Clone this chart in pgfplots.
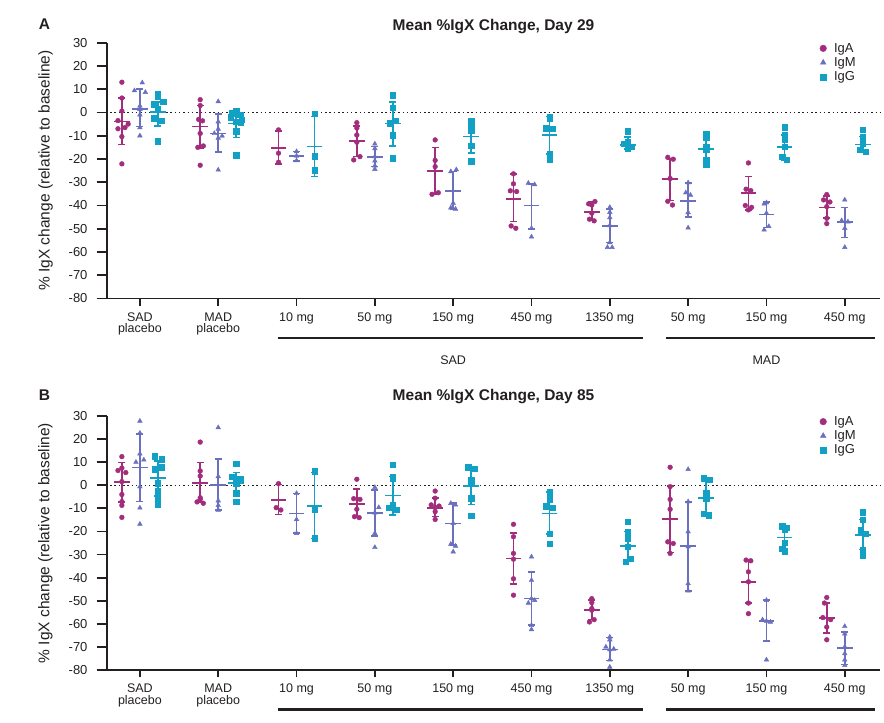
\documentclass[border=0pt]{standalone}
\usepackage{fontspec}
\setmainfont{Liberation Sans}
\usepackage{pgfplots}
\pgfplotsset{compat=1.18}

\definecolor{cIgA}{HTML}{A32D7D}
\definecolor{cIgM}{HTML}{6A70BE}
\definecolor{cIgG}{HTML}{12A0C4}
\definecolor{cAx}{HTML}{231F20}

\pgfplotsset{
  panel/.style={
    scale only axis, width=773pt,
    xmin=-0.42, xmax=9.45, ymin=-80, ymax=30,
    axis lines*=left, axis line style={line width=1.9pt, draw=cAx, -},
    clip=false,
    xtick={0,...,9},
    xticklabels={{SAD\\placebo},{MAD\\placebo},10 mg,50 mg,150 mg,450 mg,1350 mg,50 mg,150 mg,450 mg},
    ytick={-80,-70,...,30},
    yticklabels={-80,-70,-60,-50,-40,-30,-20,-10,0,10,20,30},
    tick align=outside, major tick length=10.5pt,
    tick style={line width=1.9pt, draw=cAx},
    xtick style={/pgfplots/major tick length=7.5pt},
    yticklabel style={font=\fontsize{13}{13}\selectfont, text=cAx, xshift=-5.5pt},
    xticklabel style={font=\fontsize{12.5}{11.7}\selectfont, align=center, text=cAx},
    legend image code/.code={\draw[##1] plot coordinates {(0pt,0pt)};},
    legend style={at={(0.922,1.003)}, anchor=north west, draw=none, fill=none,
      inner sep=0pt, row sep=1.8pt, column sep=6.5pt,
      nodes={inner sep=1pt, text=cAx, font=\fontsize{13}{13}\selectfont}},
    legend cell align=left,
  },
  apts/.style={only marks, mark=*, mark size=2.4pt, color=cIgA, forget plot},
  mpts/.style={only marks, mark=triangle*, mark size=2.7pt, color=cIgM, forget plot},
  gpts/.style={only marks, mark=square*, mark size=2.7pt, color=cIgG, forget plot},
  sdbar/.style={line width=1.6pt, mark=-, mark size=3.5pt, unbounded coords=jump, forget plot},
  meanbar/.style={only marks, mark=-, mark size=7.8pt, line width=1.6pt, forget plot},
  zero/.style={forget plot, cAx, line width=1.5pt, dash pattern=on 1.5pt off 2.8pt},
}

\begin{document}
\begin{tikzpicture}[x=1pt,y=1pt]
\path[use as bounding box] (0,0) rectangle (884,723);

% ---------------- Panel A: Day 29 ----------------
\begin{axis}[panel, at={(107pt,424.5pt)}, anchor=south west, height=255.8pt]
\addplot[zero] coordinates {(-0.38,0) (9.45,0)};

% IgA
\addplot[apts] coordinates {(-0.23,13) (-0.23,6.2) (-0.23,0.6) (-0.28,-3.5) (-0.15,-5) (-0.19,-6.5) (-0.28,-7) (-0.23,-10.4) (-0.23,-22.1)
 (0.77,5.5) (0.77,3) (0.75,-3) (0.80,-3.6) (0.77,-9) (0.81,-14.4) (0.74,-15) (0.77,-22.7)
 (1.77,-7.5) (1.77,-17.5) (1.77,-21.4)
 (2.77,-4.4) (2.77,-6.7) (2.77,-9.7) (2.77,-12.8) (2.81,-19) (2.73,-20.4)
 (3.77,-11.8) (3.77,-20.6) (3.77,-23.3) (3.81,-34.5) (3.73,-35.2)
 (4.77,-26.4) (4.77,-30.7) (4.73,-33.7) (4.81,-34) (4.74,-48.8) (4.80,-49.8)
 (5.81,-38.3) (5.73,-39.3) (5.77,-39.8) (5.77,-43.3) (5.74,-45.9) (5.80,-46.6)
 (6.74,-19.3) (6.81,-20.1) (6.77,-28.4) (6.74,-38.2) (6.80,-39.8)
 (7.77,-21.7) (7.74,-33) (7.80,-33.6) (7.73,-40) (7.81,-40.8) (7.77,-41.9)
 (8.77,-35.3) (8.73,-37.6) (8.81,-38.5) (8.77,-40.5) (8.77,-45.5) (8.77,-47.8)};
\addplot[sdbar, cIgA] coordinates {(-0.23,6.2) (-0.23,-13.8) (-0.23,nan) (0.77,3) (0.77,-15.3) (0.77,nan)
 (1.77,-8) (1.77,-22.1) (1.77,nan) (2.77,-5.8) (2.77,-19) (2.77,nan) (3.77,-15.1) (3.77,-35) (3.77,nan)
 (4.77,-26.4) (4.77,-46.9) (4.77,nan) (5.77,-38.6) (5.77,-46.5) (5.77,nan) (6.77,-20.1) (6.77,-37.9) (6.77,nan)
 (7.77,-27.6) (7.77,-41.9) (7.77,nan) (8.77,-35.9) (8.77,-45.5)};
\addplot[meanbar, cIgA] coordinates {(-0.23,-3.9) (0.77,-6.1) (1.77,-15.3) (2.77,-12.4) (3.77,-25.1) (4.77,-37.3) (5.77,-42.9) (6.77,-28.6) (7.77,-34.7) (8.77,-40.8)};

% IgM
\addplot[mpts] coordinates {(0.03,12.8) (-0.07,9.4) (0.07,8.7) (0,2.8) (0,1.4) (0,-1) (0,-6.5) (0,-10)
 (1,4.7) (1,-4) (1,-7.1) (0.95,-9) (1.05,-10.1) (1,-11) (1,-24.7)
 (2,-16.8) (2,-18.7) (2,-20.7)
 (3,-13.5) (3,-15.5) (3,-19) (3,-20.8) (3,-22.9) (3,-24.4)
 (4.04,-24.6) (3.97,-25.4) (4,-39) (3.97,-41) (4.03,-41.5)
 (4.96,-30.4) (5.04,-31) (5,-49.8) (5,-53.5)
 (6,-40.8) (6,-42.9) (6,-45.2) (6,-48.6) (6,-55.9) (5.97,-58) (6.03,-58)
 (7,-30.2) (6.97,-34.5) (7.03,-35.5) (7,-43) (7,-49.6)
 (8,-38.8) (7.97,-39.3) (8,-43.3) (8.03,-49) (7.97,-50.5)
 (9,-37.6) (8.96,-46.5) (9.04,-47) (9,-49.8) (9,-58)};
\addplot[sdbar, cIgM] coordinates {(0,10) (0,-6) (0,nan) (1,-0.6) (1,-17.1) (1,nan)
 (2,-16.8) (2,-21) (2,nan) (3,-14.7) (3,-23.3) (3,nan) (4,-25.4) (4,-41.6) (4,nan)
 (5,-30.7) (5,-50) (5,nan) (6,-41.6) (6,-55.9) (6,nan) (7,-30.4) (7,-45) (7,nan)
 (8,-38.6) (8,-49.5) (8,nan) (9,-40.8) (9,-53.7)};
\addplot[meanbar, cIgM] coordinates {(0,1.6) (1,-9) (2,-18.7) (3,-19.1) (4,-33.7) (5,-40) (6,-48.8) (7,-38) (8,-43.8) (9,-47.1)};

% IgG
\addplot[gpts] coordinates {(0.23,7.8) (0.23,6.8) (0.30,4.5) (0.18,3.5) (0.23,1.4) (0.18,-2.4) (0.28,-3.6) (0.23,-12.4)
 (1.23,0.8) (1.18,-0.4) (1.28,-1) (1.16,-2) (1.30,-3) (1.23,-4) (1.29,-4.4) (1.23,-8.1) (1.23,-18.4)
 (2.23,-0.5) (2.23,-18.8) (2.23,-24.8)
 (3.23,7.4) (3.23,2.1) (3.27,-3.5) (3.19,-4.7) (3.23,-9.8) (3.23,-19.7)
 (4.23,-3.5) (4.23,-4.4) (4.23,-5.4) (4.23,-6.8) (4.23,-7.8) (4.23,-14.4) (4.23,-21)
 (5.23,-1.8) (5.23,-2.8) (5.19,-6.7) (5.27,-7) (5.23,-17.8) (5.23,-20.4)
 (6.23,-8.1) (6.23,-12.5) (6.18,-13.5) (6.28,-14.7) (6.23,-15.4)
 (7.23,-9.4) (7.23,-10.8) (7.23,-14.7) (7.23,-15.8) (7.23,-20.4) (7.23,-22.4)
 (8.23,-6.4) (8.23,-9.7) (8.23,-11.5) (8.23,-14.7) (8.20,-19) (8.26,-20.4)
 (9.23,-7.5) (9.23,-10.4) (9.23,-13.3) (9.19,-16.1) (9.27,-16.8)};
\addplot[sdbar, cIgG] coordinates {(0.23,4.5) (0.23,-5.8) (0.23,nan) (1.23,0.8) (1.23,-10.7) (1.23,nan)
 (2.23,-1.8) (2.23,-27.6) (2.23,nan) (3.23,4.5) (3.23,-14.3) (3.23,nan) (4.23,-3.5) (4.23,-17.5) (4.23,nan)
 (5.23,-1.8) (5.23,-17.8) (5.23,nan) (6.23,-10.5) (6.23,-15.8) (6.23,nan) (7.23,-10.8) (7.23,-20.7) (7.23,nan)
 (8.23,-9.7) (8.23,-20.4) (8.23,nan) (9.23,-10.4) (9.23,-16.8)};
\addplot[meanbar, cIgG] coordinates {(0.23,0.1) (1.23,-4.7) (2.23,-14.7) (3.23,-4.8) (4.23,-10.4) (5.23,-9.7) (6.23,-14) (7.23,-15.8) (8.23,-14.8) (9.23,-13.7)};

\addlegendimage{only marks, mark=*, mark size=3.3pt, cIgA}
\addlegendimage{only marks, mark=triangle*, mark size=3.3pt, cIgM}
\addlegendimage{only marks, mark=square*, mark size=3.2pt, cIgG}
\legend{IgA,IgM,IgG}

\node[anchor=base, font=\fontsize{15.5}{15.5}\selectfont\bfseries, text=cAx] at ([yshift=12.5pt]rel axis cs:0.5,1) {Mean \%IgX Change, Day 29};
\node[anchor=base, font=\fontsize{15.5}{15.5}\selectfont\bfseries, text=cAx] at ([xshift=-62.5pt, yshift=13pt]rel axis cs:0,1) {A};
\node[anchor=base, rotate=90, font=\fontsize{15.5}{15.5}\selectfont, text=cAx] at ([xshift=-57.5pt]rel axis cs:0,0.5) {\% IgX change (relative to baseline)};
\draw[cAx, line width=2.6pt] ([yshift=-39.4pt]axis cs:1.76,-80) -- ([yshift=-39.4pt]axis cs:6.425,-80);
\draw[cAx, line width=2.6pt] ([yshift=-39.4pt]axis cs:6.715,-80) -- ([yshift=-39.4pt]axis cs:9.388,-80);
\node[font=\fontsize{12.5}{12.5}\selectfont, text=cAx] at ([yshift=-61.5pt]axis cs:4,-80) {SAD};
\node[font=\fontsize{12.5}{12.5}\selectfont, text=cAx] at ([yshift=-61.5pt]axis cs:8,-80) {MAD};
\end{axis}

% ---------------- Panel B: Day 85 ----------------
\begin{axis}[panel, at={(107pt,53pt)}, anchor=south west, height=254pt]
\addplot[zero] coordinates {(-0.38,0) (9.45,0)};

% IgA
\addplot[apts] coordinates {(-0.23,12.4) (-0.23,7.5) (-0.28,6.4) (-0.18,5.5) (-0.23,1.6) (-0.23,-4) (-0.23,-7.1) (-0.23,-8.7) (-0.23,-13.9)
 (0.77,18.7) (0.77,6.2) (0.77,4) (0.77,-5.4) (0.77,-6.1) (0.73,-7.2) (0.81,-7.8)
 (1.77,0.7) (1.74,-9.7) (1.80,-10.7)
 (2.77,2.6) (2.73,-5.8) (2.81,-6.1) (2.77,-10.4) (2.74,-13.6) (2.80,-14)
 (3.77,-2.5) (3.77,-5.6) (3.72,-8.5) (3.82,-9) (3.77,-9.6) (3.77,-11.4) (3.77,-14.8)
 (4.77,-16.9) (4.77,-22.3) (4.77,-29.5) (4.77,-32) (4.77,-40.5) (4.77,-47.6)
 (5.77,-49.1) (5.77,-50.8) (5.77,-53.4) (5.77,-54.1) (5.80,-58.2) (5.74,-59.2)
 (6.77,7.8) (6.77,-0.6) (6.77,-6.1) (6.77,-10.4) (6.74,-24.5) (6.81,-25.2) (6.77,-29.5)
 (7.74,-32.4) (7.80,-32.7) (7.77,-37.5) (7.77,-41.8) (7.77,-51) (7.77,-55.6)
 (8.77,-48.6) (8.74,-51) (8.72,-57.3) (8.82,-58.2) (8.77,-61.4) (8.77,-66.9)};
\addplot[sdbar, cIgA] coordinates {(-0.23,9.8) (-0.23,-7.2) (-0.23,nan) (0.77,9.8) (0.77,-7.2) (0.77,nan)
 (1.77,0.4) (1.77,-12.7) (1.77,nan) (2.77,-1.7) (2.77,-13.6) (2.77,nan) (3.77,-5.4) (3.77,-13.6) (3.77,nan)
 (4.77,-20.6) (4.77,-42.8) (4.77,nan) (5.77,-49.8) (5.77,-58.2) (5.77,nan) (6.77,-0.3) (6.77,-29.2) (6.77,nan)
 (7.77,-32.4) (7.77,-51) (7.77,nan) (8.77,-51) (8.77,-64)};
\addplot[meanbar, cIgA] coordinates {(-0.23,1.4) (0.77,1) (1.77,-6.4) (2.77,-8.1) (3.77,-9.8) (4.77,-31.7) (5.77,-54.1) (6.77,-14.6) (7.77,-41.8) (8.77,-57.5)};

% IgM
\addplot[mpts] coordinates {(0,27.8) (0,22.6) (0,13.6) (0.05,11) (-0.05,10) (0,-0.6) (0,-9.8) (0,-16.8)
 (1,25) (1,3.8) (1,-6.7) (1,-8.7) (1,-10.7)
 (2,-3.5) (2,-14.8) (2,-20.8)
 (3,-0.9) (3.05,-9.6) (3,-11.9) (3,-20.8) (3,-26.9)
 (3.97,-7.8) (4.03,-8.5) (4,-16.5) (3.97,-25.5) (4.03,-26.3) (4,-28.8)
 (5,-31) (5,-41.1) (5,-49.1) (5.04,-49.8) (4.96,-51) (5,-60.6) (5,-62.5)
 (6,-65.7) (6,-66.9) (5.95,-70) (6.05,-70.9) (6,-71.2) (6,-75.6) (6,-78.7)
 (7,6.9) (7,-7.1) (7,-20.1) (7,-26.6) (7,-42.6) (7,-45.7)
 (8,-49.8) (7.95,-58.2) (8,-58.8) (8.05,-59.2) (8,-75.6)
 (9,-61.1) (9,-64.3) (9,-70) (9,-72.9) (9,-75.6) (9,-78)};
\addplot[sdbar, cIgM] coordinates {(0,22.3) (0,-7.1) (0,nan) (1,11.4) (1,-10.7) (1,nan)
 (2,-3.5) (2,-20.8) (2,nan) (3,-2) (3,-21.9) (3,nan) (4,-7.8) (4,-25.8) (4,nan)
 (5,-37.5) (5,-60.6) (5,nan) (6,-66) (6,-75.8) (6,nan) (7,-7.2) (7,-45.7) (7,nan)
 (8,-49.8) (8,-67.4) (8,nan) (9,-63.5) (9,-77.6)};
\addplot[meanbar, cIgM] coordinates {(0,7.7) (1,0) (2,-12.2) (3,-11.9) (4,-16.6) (5,-49.1) (6,-71.2) (7,-26.2) (8,-58.8) (9,-70.5)};

% IgG
\addplot[gpts] coordinates {(0.19,12.6) (0.28,11.3) (0.28,7.8) (0.19,6.9) (0.23,0.9) (0.23,-2.5) (0.23,-6.4) (0.23,-8.4)
 (1.23,9.3) (1.18,3.8) (1.28,2.9) (1.23,0.9) (1.23,-3.5) (1.23,-7.1)
 (2.23,6.1) (2.23,-10.4) (2.23,-23)
 (3.23,9) (3.23,3.8) (3.23,2.9) (3.23,-8.7) (3.18,-9.8) (3.28,-10.7)
 (4.19,7.8) (4.27,7.2) (4.23,2.3) (4.23,0.6) (4.23,-5.6) (4.23,-13.3)
 (5.23,-3) (5.23,-6.1) (5.19,-9) (5.27,-9.6) (5.23,-21.1) (5.23,-25.2)
 (6.23,-15.8) (6.23,-20.1) (6.23,-22.9) (6.23,-26.6) (6.26,-31.7) (6.20,-33.1)
 (7.20,3) (7.27,2.3) (7.23,-3.2) (7.23,-5.6) (7.20,-12.2) (7.26,-12.9)
 (8.20,-17.7) (8.26,-18.4) (8.23,-19.1) (8.23,-24.9) (8.20,-27.4) (8.23,-28.8)
 (9.23,-11.6) (9.23,-14.8) (9.20,-19.4) (9.26,-21.1) (9.23,-27.8) (9.23,-30.5)};
\addplot[sdbar, cIgG] coordinates {(0.23,10.4) (0.23,-4.6) (0.23,nan) (1.23,5.6) (1.23,-4.2) (1.23,nan)
 (2.23,5.5) (2.23,-23) (2.23,nan) (3.23,3.8) (3.23,-13) (3.23,nan) (4.23,6.4) (4.23,-8.4) (4.23,nan)
 (5.23,-3) (5.23,-21.1) (5.23,nan) (6.23,-20.1) (6.23,-32.4) (6.23,nan) (7.23,1.6) (7.23,-12.6) (7.23,nan)
 (8.23,-17.9) (8.23,-27.4) (8.23,nan) (9.23,-14.8) (9.23,-27.8)};
\addplot[meanbar, cIgG] coordinates {(0.23,3.2) (1.23,0.9) (2.23,-9) (3.23,-4.5) (4.23,-0.3) (5.23,-12.3) (6.23,-26.3) (7.23,-5.6) (8.23,-22.6) (9.23,-21.6)};

\addlegendimage{only marks, mark=*, mark size=3.3pt, cIgA}
\addlegendimage{only marks, mark=triangle*, mark size=3.3pt, cIgM}
\addlegendimage{only marks, mark=square*, mark size=3.2pt, cIgG}
\legend{IgA,IgM,IgG}

\node[anchor=base, font=\fontsize{15.5}{15.5}\selectfont\bfseries, text=cAx] at ([yshift=15.3pt]rel axis cs:0.5,1) {Mean \%IgX Change, Day 85};
\node[anchor=base, font=\fontsize{15.5}{15.5}\selectfont\bfseries, text=cAx] at ([xshift=-62.5pt, yshift=15.3pt]rel axis cs:0,1) {B};
\node[anchor=base, rotate=90, font=\fontsize{15.5}{15.5}\selectfont, text=cAx] at ([xshift=-57.5pt]rel axis cs:0,0.5) {\% IgX change (relative to baseline)};
\draw[cAx, line width=2.6pt] ([yshift=-39.4pt]axis cs:1.76,-80) -- ([yshift=-39.4pt]axis cs:6.425,-80);
\draw[cAx, line width=2.6pt] ([yshift=-39.4pt]axis cs:6.715,-80) -- ([yshift=-39.4pt]axis cs:9.388,-80);
% the reference page cuts these two labels at its lower edge
\node[font=\fontsize{12.5}{12.5}\selectfont, text=cAx] at ([yshift=-58.5pt]axis cs:4,-80) {SAD};
\node[font=\fontsize{12.5}{12.5}\selectfont, text=cAx] at ([yshift=-58.5pt]axis cs:8,-80) {MAD};
\end{axis}
\end{tikzpicture}
\end{document}
